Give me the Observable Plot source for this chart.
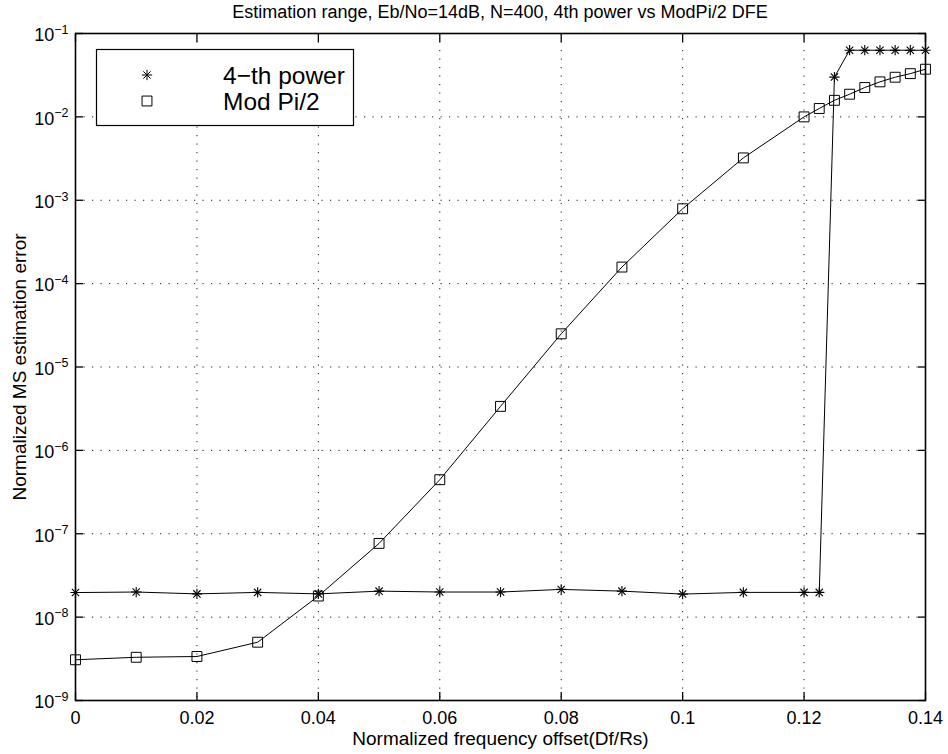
<!DOCTYPE html>
<html><head><meta charset="utf-8">
<script src="https://cdn.jsdelivr.net/npm/d3@7"></script>
<script src="https://cdn.jsdelivr.net/npm/@observablehq/plot@0.6"></script>
<style>
body{margin:0;background:#fff;font-family:"Liberation Sans",Arial,Helvetica,sans-serif;}
#wrap{position:relative;width:948px;height:754px;overflow:hidden;}
#title{height:22px;line-height:24px;font-size:18px;text-align:center;padding-left:52px;box-sizing:border-box;width:948px;color:#000;white-space:nowrap;}
#legend{position:absolute;left:96px;top:49px;}
</style></head><body>
<div id="wrap"><div id="title"></div><div id="chart"></div><div id="legend"></div></div>
<script>
// ---- data ----
const titleText = "Estimation range, Eb/No=14dB, N=400, 4th power vs ModPi/2 DFE";
const xLabel = "Normalized frequency offset(Df/Rs)";
const yLabel = "Normalized MS estimation error";
const seriesNames = ["4\u2212th power", "Mod Pi/2"];

const xFourth = [0, 0.01, 0.02, 0.03, 0.04, 0.05, 0.06, 0.07, 0.08, 0.09, 0.1, 0.11, 0.12, 0.1225, 0.125, 0.1275, 0.13, 0.1325, 0.135, 0.1375, 0.14];
const yFourth = [1.97e-8, 2.0e-8, 1.9e-8, 1.98e-8, 1.9e-8, 2.05e-8, 2.0e-8, 2.0e-8, 2.15e-8, 2.05e-8, 1.89e-8, 1.98e-8, 1.98e-8, 1.98e-8, 3.0e-2, 6.3e-2, 6.3e-2, 6.3e-2, 6.3e-2, 6.3e-2, 6.3e-2];

const xMod = [0, 0.01, 0.02, 0.03, 0.04, 0.05, 0.06, 0.07, 0.08, 0.09, 0.1, 0.11, 0.12, 0.1225, 0.125, 0.1275, 0.13, 0.1325, 0.135, 0.1375, 0.14];
const yMod = [3.08e-9, 3.3e-9, 3.37e-9, 5.0e-9, 1.79e-8, 7.66e-8, 4.45e-7, 3.37e-6, 2.5e-5, 1.58e-4, 7.9e-4, 3.22e-3, 1.0e-2, 1.26e-2, 1.58e-2, 1.87e-2, 2.25e-2, 2.63e-2, 2.99e-2, 3.3e-2, 3.73e-2];

const xTicks = [0, 0.02, 0.04, 0.06, 0.08, 0.1, 0.12, 0.14];
const yTicks = [1e-9, 1e-8, 1e-7, 1e-6, 1e-5, 1e-4, 1e-3, 1e-2, 1e-1];

// ---- tables ----
const fourth = xFourth.map((x, i) => ({x, y: yFourth[i]}));
const modpi = xMod.map((x, i) => ({x, y: yMod[i]}));

document.getElementById("title").textContent = titleText;

const FONT = "Liberation Sans, Arial, Helvetica, sans-serif";
const starR = 3.4, squareR = 6.3;
const fmtX = d => String(+d.toFixed(2));
const fmtY = d => "10^" + Math.round(Math.log10(d));

const chart = Plot.plot({
  width: 948, height: 732,
  marginLeft: 75, marginRight: 23, marginTop: 11, marginBottom: 54,
  style: {fontFamily: FONT, fontSize: "18px", background: "white", color: "black", overflow: "visible"},
  x: {domain: [0, 0.14]},
  y: {type: "log", domain: [1e-9, 1e-1]},
  marks: [
    Plot.gridX(xTicks, {stroke: "black", strokeOpacity: 0.9, strokeWidth: 1, strokeDasharray: "1.2,7.3"}),
    Plot.gridY(yTicks, {stroke: "black", strokeOpacity: 0.9, strokeWidth: 1, strokeDasharray: "1.2,7.3"}),
    Plot.axisX(xTicks, {anchor: "bottom", tickSize: 0, tickPadding: 11, tickFormat: fmtX, label: null, fontSize: 18}),
    Plot.axisX(xTicks, {anchor: "bottom", tickSize: -8, fill: "none", label: null, strokeWidth: 1.3}),
    Plot.axisX(xTicks, {anchor: "top", tickSize: -8, fill: "none", label: null, strokeWidth: 1.3}),
    Plot.axisY(yTicks, {anchor: "left", tickSize: 0, tickPadding: 7, tickFormat: fmtY, label: null, fontSize: 18}),
    Plot.axisY(yTicks, {anchor: "left", tickSize: -8, fill: "none", label: null, strokeWidth: 1.3}),
    Plot.axisY(yTicks, {anchor: "right", tickSize: -8, fill: "none", label: null, strokeWidth: 1.3}),
    Plot.frame({stroke: "black", strokeWidth: 1.6}),
    Plot.line(fourth, {x: "x", y: "y", stroke: "black", strokeWidth: 1}),
    Plot.line(modpi, {x: "x", y: "y", stroke: "black", strokeWidth: 1}),
    Plot.dot(fourth, {x: "x", y: "y", symbol: "plus", r: starR, stroke: "black", fill: "none", strokeWidth: 1.1}),
    Plot.dot(fourth, {x: "x", y: "y", symbol: "times", r: starR, stroke: "black", fill: "none", strokeWidth: 1.1}),
    Plot.dot(modpi, {x: "x", y: "y", symbol: "square2", r: squareR, stroke: "black", fill: "none", strokeWidth: 1}),
    Plot.text([xLabel], {frameAnchor: "bottom", text: d => d, dy: 38.5, lineAnchor: "middle", textAnchor: "middle", fontSize: 19, fill: "black"}),
    Plot.text([yLabel], {frameAnchor: "left", text: d => d, rotate: -90, dx: -55.5, lineAnchor: "middle", textAnchor: "middle", fontSize: 19, fill: "black"})
  ]
});
document.getElementById("chart").appendChild(chart);

// superscript exponents on the y tick labels
d3.select(chart).selectAll('g[aria-label="y-axis tick label"] text').each(function() {
  const t = this.textContent;
  if (!t.startsWith("10^")) return;
  const e = t.slice(3).replace("-", "\u2212");
  const sel = d3.select(this);
  sel.text(null);
  sel.append("tspan").attr("dy", "2").text("10");
  sel.append("tspan").attr("dy", "-7.5").attr("font-size", "12.5px").text(e);
});

// legend (drawn with the same symbols)
const lw = 258, lh = 77;
const leg = d3.select("#legend").append("svg").attr("width", lw).attr("height", lh)
  .style("font-family", FONT).style("overflow", "visible");
leg.append("rect").attr("x", 0.5).attr("y", 0.5).attr("width", lw - 1).attr("height", lh - 1)
  .attr("fill", "white").attr("stroke", "black").attr("stroke-width", 1.2);
const sizeOf = r => Math.PI * r * r;
const rows = [
  {name: seriesNames[0], syms: [d3.symbolPlus, d3.symbolTimes], r: starR, cy: 26},
  {name: seriesNames[1], syms: [d3.symbolSquare2], r: squareR, cy: 52}
];
rows.forEach(row => {
  row.syms.forEach(s => {
    leg.append("path").attr("d", d3.symbol(s, sizeOf(row.r))())
      .attr("transform", `translate(51,${row.cy})`).attr("fill", "none").attr("stroke", "black").attr("stroke-width", 1);
  });
  leg.append("text").attr("x", 127).attr("y", row.cy).attr("dy", "0.36em")
    .attr("font-size", "24.5px").attr("fill", "black").text(row.name);
});
</script>
</body></html>
